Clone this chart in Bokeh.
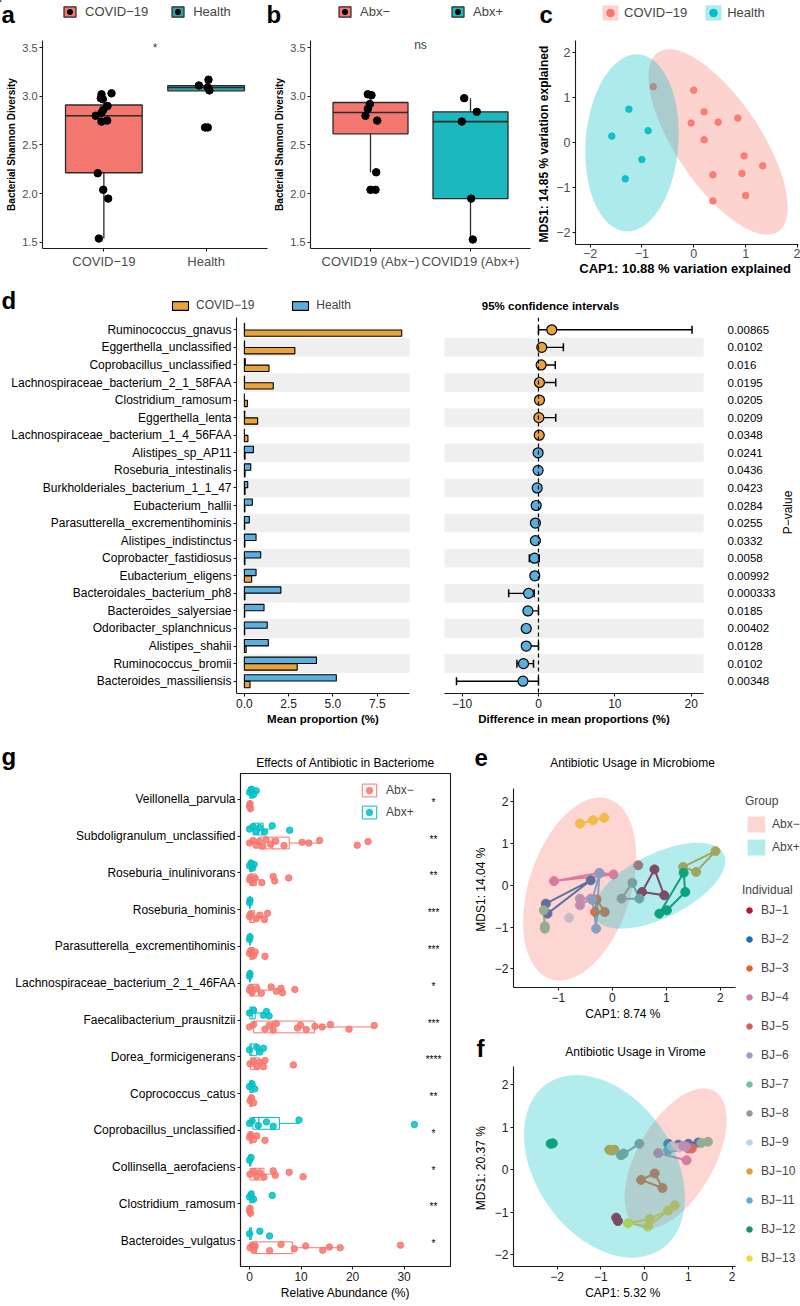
import numpy as np
from bokeh.plotting import figure
from bokeh.models import (ColumnDataSource, Range1d, FactorRange, FixedTicker, Label,
                          Legend, LegendItem, Span, CustomJSTickFormatter)
from bokeh.layouts import row, column
from bokeh.transform import dodge
from bokeh.core.properties import value
from bokeh.embed import file_html
from bokeh.resources import INLINE

FONT = "Liberation Sans"
MINUS = "\u2212"
SALMON = "#F8766D"
TEAL = "#00BFC4"
ORANGE = "#E8A33C"
BLUE = "#5BAFDE"

# ===================== DATA =====================
# (a) Shannon diversity COVID-19 vs Health
a_groups = ["COVID" + MINUS + "19", "Health"]
a_q1 = [2.215, 3.056]
a_median = [2.80, 3.09]
a_q3 = [2.91, 3.11]
a_whisker_low = [1.54, 3.06]
a_whisker_high = [3.03, 3.17]
a_point_group = [0] * 14 + [1] * 6
a_point_value = [3.03, 3.02, 2.98, 2.97, 2.90, 2.86, 2.83, 2.80, 2.75, 2.74, 2.21, 2.04, 1.95, 1.54,
                 3.17, 3.11, 3.09, 3.06, 2.68, 2.68]
a_point_jitter = [0.075, -0.023, -0.03, -0.01, 0.036, -0.006, -0.023, -0.08, 0.032, -0.023, -0.06, -0.006,
                  0.042, -0.049, 0.023, -0.071, 0.016, 0.032, -0.01, 0.016]

# (b) Shannon diversity Abx- vs Abx+
b_groups = ["COVID19 (Abx" + MINUS + ")", "COVID19 (Abx+)"]
b_legend = ["Abx" + MINUS, "Abx+"]
b_q1 = [2.615, 1.95]
b_median = [2.833, 2.74]
b_q3 = [2.936, 2.84]
b_whisker_low = [2.22, 1.53]
b_whisker_high = [3.02, 2.98]
b_point_group = [0] * 9 + [1] * 5
b_point_value = [3.02, 3.01, 2.92, 2.87, 2.80, 2.75, 2.22, 2.04, 2.04, 2.98, 2.84, 2.74, 1.95, 1.53]
b_point_jitter = [-0.027, 0.01, -0.007, -0.027, -0.05, 0.067, 0.057, 0.0, 0.05, -0.063, 0.063, -0.087, 0.007, 0.023]

# (c) ordination COVID-19 vs Health
c_groups = ["COVID" + MINUS + "19", "Health"]
c_point_group = [1] * 5 + [0] * 13
c_cap1 = [-1.25, -1.58, -0.88, -1.00, -1.32,
          -0.78, 0.00, 0.20, -0.05, 0.47, 0.85, 0.20, 0.97, 1.33, 0.37, 0.93, 1.00, 0.37]
c_mds1 = [0.75, 0.15, 0.27, -0.37, -0.80,
          1.25, 1.17, 0.69, 0.44, 0.46, 0.55, 0.07, -0.29, -0.51, -0.71, -0.68, -1.17, -1.29]
c_ell_x = [0.47, -1.19]
c_ell_y = [0.02, 0.0]
c_ell_w = [1.64, 1.79]
c_ell_h = [4.8, 3.95]
c_ell_angle = [0.59, -0.075]

# (d) differential taxa
d_taxa = ["Ruminococcus_gnavus", "Eggerthella_unclassified", "Coprobacillus_unclassified",
          "Lachnospiraceae_bacterium_2_1_58FAA", "Clostridium_ramosum", "Eggerthella_lenta",
          "Lachnospiraceae_bacterium_1_4_56FAA", "Alistipes_sp_AP11", "Roseburia_intestinalis",
          "Burkholderiales_bacterium_1_1_47", "Eubacterium_hallii", "Parasutterella_excrementihominis",
          "Alistipes_indistinctus", "Coprobacter_fastidiosus", "Eubacterium_eligens",
          "Bacteroidales_bacterium_ph8", "Bacteroides_salyersiae", "Odoribacter_splanchnicus",
          "Alistipes_shahii", "Ruminococcus_bromii", "Bacteroides_massiliensis"]
d_covid = [8.88, 2.85, 1.39, 1.63, 0.17, 0.75, 0.20, 0.04, 0.04, 0.04, 0.03, 0.02, 0.03, 0.03,
           0.41, 0.03, 0.02, 0.02, 0.10, 2.98, 0.32]
d_health = [0.01, 0.01, 0.05, 0.01, 0.0, 0.02, 0.0, 0.51, 0.36, 0.19, 0.45, 0.28, 0.66, 0.92,
            0.66, 2.06, 1.11, 1.29, 1.35, 4.07, 5.19]
d_diff = [1.74, 0.43, 0.35, 0.13, 0.13, 0.05, 0.10, -0.05, -0.05, -0.17, -0.30, -0.40, -0.40,
          -0.52, -0.48, -1.30, -1.38, -1.60, -1.60, -1.96, -2.03]
d_ci_low = [0.0, 0.1, 0.05, 0.0, 0.05, 0.0, 0.05, -0.2, -0.15, -0.3, -0.65, -0.6, -0.6, -1.2,
            -0.8, -3.9, -1.8, -1.75, -1.9, -2.82, -10.73]
d_ci_high = [20.1, 3.26, 2.2, 2.26, 0.2, 2.26, 0.15, 0.1, 0.05, 0.0, 0.0, -0.2, -0.2, 0.1, 0.0,
             -0.56, 0.0, -1.45, 0.0, -0.65, 0.0]
d_pvalue = ["0.00865", "0.0102", "0.016", "0.0195", "0.0205", "0.0209", "0.0348", "0.0241",
            "0.0436", "0.0423", "0.0284", "0.0255", "0.0332", "0.0058", "0.00992", "0.000333",
            "0.0185", "0.00402", "0.0128", "0.0102", "0.00348"]

# (g) antibiotic effects
g_taxa = ["Veillonella_parvula", "Subdoligranulum_unclassified", "Roseburia_inulinivorans",
          "Roseburia_hominis", "Parasutterella_excrementihominis", "Lachnospiraceae_bacterium_2_1_46FAA",
          "Faecalibacterium_prausnitzii", "Dorea_formicigenerans", "Coprococcus_catus",
          "Coprobacillus_unclassified", "Collinsella_aerofaciens", "Clostridium_ramosum",
          "Bacteroides_vulgatus"]
g_signif = ["*", "**", "**", "***", "***", "*", "***", "****", "**", "*", "*", "**", "*"]
g_minus_q1 = [0.0, 1.85, 0.05, 0.05, 0.05, 0.1, 0.8, 0.2, 0.05, 0.05, 0.1, 0.0, 0.6]
g_minus_median = [0.05, 4.4, 0.5, 0.3, 0.3, 0.6, 4.4, 1.0, 0.2, 0.2, 1.0, 0.05, 1.3]
g_minus_q3 = [0.15, 7.7, 1.3, 1.0, 0.8, 1.8, 12.6, 1.9, 0.5, 0.5, 2.8, 0.15, 8.3]
g_minus_low = [0.0] * 13
g_minus_high = [0.3, 13.6, 2.6, 3.5, 1.1, 4.2, 24.2, 3.0, 0.9, 1.0, 5.0, 0.3, 17.6]
g_plus_q1 = [0.05, 0.7, 0.05, 0.0, 0.0, 0.0, 0.05, 0.05, 0.05, 0.65, 0.0, 0.05, 0.0]
g_plus_median = [0.3, 1.7, 0.2, 0.05, 0.05, 0.05, 0.5, 0.3, 0.3, 1.8, 0.1, 0.3, 0.1]
g_plus_q3 = [0.8, 2.65, 0.5, 0.15, 0.15, 0.15, 1.1, 1.4, 0.7, 5.8, 0.3, 0.8, 0.4]
g_plus_low = [0.0] * 13
g_plus_high = [1.5, 4.4, 0.9, 0.3, 0.3, 0.3, 2.7, 2.7, 1.0, 9.6, 0.6, 1.2, 0.8]
g_minus_points = [
    [0.0, 0.1, 0.2],
    [0.0, 0.7, 1.3, 1.9, 2.6, 3.2, 4.1, 5.1, 6.7, 10.2, 11.5, 13.6, 20.9, 23.0],
    [0.0, 0.2, 0.7, 1.1, 2.4, 4.6, 4.9, 7.6],
    [0.0, 0.2, 1.3, 2.0, 2.9, 3.5],
    [0.0, 0.2, 0.8, 1.1, 3.0],
    [0.0, 0.2, 0.5, 1.4, 2.3, 4.2, 5.2, 6.1, 6.4, 8.8],
    [0.0, 0.8, 3.0, 3.8, 4.6, 5.2, 9.3, 9.9, 11.0, 12.7, 14.1, 15.7, 19.3, 24.2],
    [0.1, 0.8, 1.4, 2.0, 2.7, 3.0, 8.5],
    [0.1, 0.4, 0.8],
    [0.0, 0.2, 0.8, 1.4, 3.0],
    [0.1, 0.8, 1.4, 2.0, 2.8, 4.6, 5.0, 7.7, 10.4],
    [0.0, 0.1, 0.2],
    [0.1, 0.5, 0.8, 1.1, 3.9, 6.1, 8.7, 10.9, 14.2, 15.5, 17.6, 29.3],
]
g_plus_points = [
    [0.0, 0.3, 0.8, 1.3],
    [0.0, 0.7, 1.3, 2.0, 2.9, 4.4, 7.8],
    [0.0, 0.3, 0.6, 0.9],
    [0.0, 0.1],
    [0.0, 0.1],
    [0.0, 0.1],
    [0.0, 0.8, 2.7, 3.3, 3.8],
    [0.0, 1.4, 2.0, 2.7],
    [0.0, 0.5, 1.0],
    [0.0, 0.5, 1.7, 3.3, 4.6, 9.6, 32.0],
    [0.0, 0.3],
    [0.0, 0.3, 0.8, 4.4],
    [0.0, 2.0, 3.9],
]

# (e)/(f) individuals
bj_numbers = list(range(1, 14))
bj_colors = ["#B5173C", "#1F6FB2", "#E0652B", "#CC7DB3", "#D3625F", "#A39AD0", "#6CC39F",
             "#989898", "#B7D5EA", "#E99B30", "#5AAEE3", "#13965F", "#F1DA35"]
e_individual = [13, 13, 13, 1, 1, 1, 10, 10, 10, 12, 12, 12, 12, 8, 8, 8, 5, 4, 4, 4, 2, 2, 2,
                7, 7, 7, 3, 3, 3, 6, 6, 6, 9, 11, 11, 11]
e_cap1 = [-0.60, -0.36, -0.15, 0.78, 0.55, 0.96, 1.91, 1.31, 1.55, 1.32, 1.35, 1.01, 0.87,
          0.37, 0.17, 0.50, 0.48, -1.08, 0.02, -0.24, -1.23, -1.20, -0.40, -1.27, -1.25, -1.25,
          -0.29, -0.32, -0.14, -0.60, -0.60, -0.40, -0.80, -0.30, -0.37, -0.24]
e_mds1 = [1.48, 1.56, 1.62, 0.38, -0.16, -0.24, 0.82, 0.44, 0.32, 0.30, -0.16, -0.60, -0.68,
          0.06, -0.32, -0.32, 0.48, 0.10, 0.26, 0.30, -0.44, -0.68, 0.12, -0.60, -1.04, -0.98,
          -0.34, -0.64, -0.64, -0.32, -0.48, -0.32, -0.78, -1.04, -0.35, 0.28]
e_ell_x = [-0.605, 0.87]
e_ell_y = [-0.09, -0.01]
e_ell_w = [1.89, 2.66]
e_ell_h = [4.54, 1.54]
e_ell_angle = [-0.31, 0.46]

f_individual = [12, 12, 10, 10, 10, 8, 8, 8, 2, 2, 2, 2, 7, 7, 11, 11, 4, 4, 5, 5, 9, 9, 6, 6,
                3, 3, 3, 1, 1, 13, 13, 13, 13, 13]
f_cap1 = [-2.15, -2.10, -0.81, -0.69, -0.75, -0.48, -0.12, -0.54, 0.54, 0.77, 1.00, 1.23, 1.30,
          1.45, 0.54, 0.70, 0.31, 0.96, 1.00, 1.08, 0.62, 0.80, 0.88, 0.95, -0.08, 0.23, 0.41,
          -0.65, -0.61, -0.38, 0.08, 0.69, 0.54, 0.12]
f_mds1 = [0.61, 0.62, 0.47, 0.47, 0.45, 0.38, 0.61, 0.34, 0.61, 0.59, 0.61, 0.64, 0.63, 0.66,
          0.46, 0.53, 0.39, 0.22, 0.50, 0.50, 0.55, 0.52, 0.56, 0.54, -0.24, -0.09, -0.43,
          -1.13, -1.21, -1.26, -1.34, -0.84, -0.96, -1.16]
f_ell_x = [0.71, -0.92]
f_ell_y = [0.26, 0.08]
f_ell_w = [1.76, 3.14]
f_ell_h = [3.67, 4.74]
f_ell_angle = [-0.52, 0.61]
group_labels = ["Abx" + MINUS, "Abx+"]


# ===================== HELPERS =====================
def no_align(p):
    try:
        p.frame_align = False
    except Exception:
        pass
    return p


def num_fmt(dec=0):
    return CustomJSTickFormatter(code=(
        "const s = Math.abs(tick).toFixed(%d); return (tick < -1e-9) ? '\\u2212' + s : s;" % dec))


def cat_fmt(names):
    return CustomJSTickFormatter(args=dict(names=names), code=(
        "const i = Math.round(tick) - 1; return (i >= 0 && i < names.length) ? names[i] : '';"))


def fig(w, h, xr, yr, ml, mr, mt, mb, tick_color="#222222", **kw):
    p = figure(width=w, height=h, x_range=xr, y_range=yr, output_backend="svg",
               toolbar_location=None, min_border_left=ml, min_border_right=mr,
               min_border_top=mt, min_border_bottom=mb, **kw)
    no_align(p)
    p.xgrid.visible = False
    p.ygrid.visible = False
    p.outline_line_color = None
    p.background_fill_color = "white"
    p.border_fill_color = "white"
    for ax in p.axis:
        ax.axis_line_color = "#1A1A1A"
        ax.axis_line_width = 1.1
        ax.major_tick_line_color = "#1A1A1A"
        ax.major_tick_line_width = 1.1
        ax.major_tick_out = 3
        ax.major_tick_in = 0
        ax.minor_tick_line_color = None
        ax.major_label_text_font = FONT
        ax.major_label_text_font_size = "12px"
        ax.major_label_text_color = tick_color
        ax.major_label_standoff = 2
        ax.axis_label_text_font = FONT
        ax.axis_label_text_font_size = "12px"
        ax.axis_label_text_font_style = "normal"
        ax.axis_label_text_color = "black"
        ax.axis_label_standoff = 3
    return p


def header(w, h):
    # a frameless strip whose data units are its own pixels (y grows downward)
    p = figure(width=w, height=h, x_range=Range1d(0, w), y_range=Range1d(h, 0),
               output_backend="svg", toolbar_location=None, x_axis_location=None,
               y_axis_location=None, min_border=0)
    no_align(p)
    p.xgrid.visible = False
    p.ygrid.visible = False
    p.outline_line_color = None
    return p


def put(p, x, y, t, size, bold=False, align="left", baseline="middle", angle=0.0):
    p.add_layout(Label(x=x, y=y, text=t, text_font=FONT, text_font_size="%spx" % size,
                       text_font_style="bold" if bold else "normal", text_align=align,
                       text_baseline=baseline, angle=angle, text_color="black"))


def legend(items, loc, **kw):
    opts = dict(location=loc, padding=0, margin=0, border_line_color=None,
                background_fill_alpha=0, label_text_font=FONT, label_text_font_size="13px",
                title_text_font=FONT, title_text_font_style="normal", title_text_font_size="12px")
    opts.update(kw)
    return Legend(items=items, **opts)


OFF = [-1000]  # legend-key renderers sit outside every header range
LETTER = 24

# ===================== ROW 1 : a, b, c =====================
h1 = header(800, 30)
put(h1, 1, 14, "a", LETTER, bold=True)
put(h1, 266, 14, "b", LETTER, bold=True)
put(h1, 539, 14, "c", LETTER, bold=True)


def box_keys(fills, labels, x0, spacing):
    items = []
    for i in range(2):
        b = h1.vbar(x=OFF, width=1, bottom=[0], top=[1], fill_color=fills[i], line_color="#2B2B2B",
                    line_width=1.2)
        d = h1.scatter(x=OFF, y=[0], size=6, color="black")
        items.append(LegendItem(label=labels[i], renderers=[b, d]))
    h1.add_layout(legend(items, (x0, 11), orientation="horizontal", glyph_width=15,
                         glyph_height=13, label_height=13, label_standoff=8, spacing=spacing))


def box_panel(w, ml, mr, groups, q1, med, q3, lo, hi, pgrp, pval, pjit, fills, sig, sig_y, sig_base):
    p = fig(w, 248, Range1d(0.4, 2.6), Range1d(1.438, 3.572), ml, mr, 10, 30, tick_color="#4D4D4D")
    pos = [1, 2]
    src = ColumnDataSource(dict(x=pos, q1=q1, med=med, q3=q3, lo=lo, hi=hi, fill=fills,
                                m0=[v - 0.375 for v in pos], m1=[v + 0.375 for v in pos]))
    lc = "#2B2B2B"
    p.segment("x", "q3", "x", "hi", source=src, line_color=lc, line_width=1.3)
    p.segment("x", "lo", "x", "q1", source=src, line_color=lc, line_width=1.3)
    p.vbar(x="x", width=0.75, bottom="q1", top="q3", fill_color="fill", line_color=lc,
           line_width=1.3, source=src)
    p.segment("m0", "med", "m1", "med", source=src, line_color=lc, line_width=1.6)
    px = [pos[g] + j for g, j in zip(pgrp, pjit)]
    p.scatter(px, pval, size=7.5, color="black")
    p.xaxis.ticker = FixedTicker(ticks=pos)
    p.xaxis.formatter = cat_fmt(groups)
    p.xaxis.major_label_text_font_size = "13px"
    p.yaxis.ticker = FixedTicker(ticks=[1.5, 2.0, 2.5, 3.0, 3.5])
    p.yaxis.formatter = num_fmt(1)
    p.yaxis.major_label_text_font_size = "11px"
    p.yaxis.axis_label = "Bacterial Shannon Diversity"
    p.yaxis.axis_label_text_font_style = "bold"
    p.yaxis.axis_label_text_font_size = "10px"
    p.yaxis.axis_label_standoff = 2
    p.add_layout(Label(x=1.5, y=sig_y, text=sig, text_font=FONT, text_font_size="12px",
                       text_align="center", text_baseline=sig_base))
    return p


box_keys(["#F3766F", "#31A3A8"], a_groups, 62, 22)
pa = box_panel(270, 42, 3, a_groups, a_q1, a_median, a_q3, a_whisker_low, a_whisker_high,
               a_point_group, a_point_value, a_point_jitter, ["#F3766F", "#31A3A8"], "*", 3.572, "top")
box_keys(["#F3766F", "#1DB8BE"], b_legend, 337, 60)
pb = box_panel(262, 40, 2, b_groups, b_q1, b_median, b_q3, b_whisker_low, b_whisker_high,
               b_point_group, b_point_value, b_point_jitter, ["#F3766F", "#1DB8BE"], "ns", 3.528, "middle")

# panel c
gcols = [SALMON, TEAL]
ckeys = []
for gi in range(2):
    q = h1.quad(left=OFF, right=OFF, top=[0], bottom=[1], fill_color=gcols[gi], fill_alpha=0.32,
                line_color=None)
    d = h1.scatter(x=OFF, y=[0], size=6, color=gcols[gi])
    ckeys.append(LegendItem(label=c_groups[gi], renderers=[q, d]))
h1.add_layout(legend(ckeys, (600, 8), orientation="horizontal", glyph_width=20, glyph_height=19,
                     label_height=19, label_standoff=4, spacing=16))

pc = fig(268, 248, Range1d(-2.28, 2.02), Range1d(-2.26, 2.276), 43, 2, 10, 30, tick_color="#4D4D4D")
for gi in range(2):
    xs = [x for x, g in zip(c_cap1, c_point_group) if g == gi]
    ys = [y for y, g in zip(c_mds1, c_point_group) if g == gi]
    pc.scatter(xs, ys, size=6.5, color=gcols[gi], alpha=0.9)
pc.ellipse(x=c_ell_x, y=c_ell_y, width=c_ell_w, height=c_ell_h, angle=c_ell_angle,
           fill_color=gcols, fill_alpha=0.32, line_color=None)
pc.xaxis.ticker = FixedTicker(ticks=[-2, -1, 0, 1, 2])
pc.yaxis.ticker = FixedTicker(ticks=[-2, -1, 0, 1, 2])
pc.xaxis.formatter = num_fmt(0)
pc.yaxis.formatter = num_fmt(0)
pc.xaxis.major_label_text_font_size = "12.5px"
pc.yaxis.major_label_text_font_size = "12.5px"
pc.xaxis.major_label_standoff = 1
pc.yaxis.axis_label = "MDS1:  14.85 % variation explained"
pc.yaxis.axis_label_text_font_style = "bold"
pc.yaxis.axis_label_text_font_size = "12px"
pc.yaxis.axis_label_standoff = 2
pc.xaxis.axis_label = "CAP1:  10.88 % variation explained"
pc.xaxis.axis_label_text_font_style = "bold"
pc.xaxis.axis_label_text_font_size = "13px"
pc.xaxis.axis_label_standoff = 0

# ===================== ROW 2 : d =====================
h2 = header(800, 36)
put(h2, 1, 21.5, "d", LETTER, bold=True)
put(h2, 550, 27, "95% confidence intervals", 11.5, bold=True, align="center")

d_y = FactorRange(factors=d_taxa[::-1], range_padding=0.2, range_padding_units="absolute")
d_color = [ORANGE if c > h else BLUE for c, h in zip(d_covid, d_health)]
dsrc = ColumnDataSource(dict(taxon=d_taxa, covid=d_covid, health=d_health, diff=d_diff,
                             lo=d_ci_low, hi=d_ci_high, color=d_color))
band_taxa = d_taxa[1::2]

dkeys = []
for lab, col in [("COVID" + MINUS + "19", ORANGE), ("Health", BLUE)]:
    r = h2.quad(left=OFF, right=OFF, top=[0], bottom=[1], fill_color=col, line_color="black",
                line_width=1.1)
    dkeys.append(LegendItem(label=lab, renderers=[r]))
h2.add_layout(legend(dkeys, (170, 2), orientation="horizontal", glyph_width=20, glyph_height=11,
                     label_height=13, label_standoff=6, spacing=36, label_text_font_size="12px"))

pd1 = fig(412, 421, Range1d(-0.444, 9.32), d_y, 236, 3, 3, 42)
pd1.hbar(y=band_taxa, left=0, right=9.32, height=1, color="#EFEFEF")
pd1.hbar(y=dodge("taxon", 0.19, range=d_y), left=0, right="health", height=0.36,
         fill_color=BLUE, line_color="black", line_width=1.1, source=dsrc)
pd1.hbar(y=dodge("taxon", -0.19, range=d_y), left=0, right="covid", height=0.36,
         fill_color=ORANGE, line_color="black", line_width=1.1, source=dsrc)
pd1.xaxis.ticker = FixedTicker(ticks=[0, 2.5, 5, 7.5])
pd1.xaxis.formatter = num_fmt(1)
pd1.xaxis.axis_label = "Mean proportion (%)"
pd1.xaxis.axis_label_text_font_style = "bold"
pd1.xaxis.axis_label_text_font_size = "11.5px"
pd1.xaxis.axis_label_standoff = 2
pd1.yaxis.major_label_text_color = "black"

pd2 = fig(366, 421, Range1d(-12.3, 21.6), d_y, 32, 74, 3, 42, y_axis_location="right")
pd2.hbar(y=band_taxa, left=-12.3, right=21.6, height=1, color="#EFEFEF")
pd2.add_layout(Span(location=0, dimension="height", line_color="black", line_width=1.2,
                    line_dash="4 3"))
pd2.segment("lo", "taxon", "hi", "taxon", source=dsrc, line_color="black", line_width=1.4)
pd2.scatter("lo", "taxon", source=dsrc, marker="dash", angle=np.pi / 2, size=8,
            line_color="black", line_width=1.5)
pd2.scatter("hi", "taxon", source=dsrc, marker="dash", angle=np.pi / 2, size=8,
            line_color="black", line_width=1.5)
pd2.scatter("diff", "taxon", source=dsrc, size=10, fill_color="color", line_color="black",
            line_width=1.2)
pd2.xaxis.ticker = FixedTicker(ticks=[-10, 0, 10, 20])
pd2.xaxis.formatter = num_fmt(0)
pd2.xaxis.axis_label = "Difference in mean proportions (%)"
pd2.xaxis.axis_label_text_font_style = "bold"
pd2.xaxis.axis_label_text_font_size = "11.5px"
pd2.xaxis.axis_label_standoff = 2
ry = pd2.yaxis[0]
ry.axis_line_color = None
ry.major_tick_line_color = None
ry.major_label_standoff = 21
ry.major_label_text_font_size = "11.5px"
ry.major_label_text_color = "black"
ry.formatter = CustomJSTickFormatter(args=dict(names=d_taxa, vals=d_pvalue), code=(
    "const i = names.indexOf(tick); return i >= 0 ? vals[i] : '';"))

pv = header(22, 421)
put(pv, 9, 198, "P" + MINUS + "value", 12, align="center", angle=np.pi / 2)

# ===================== ROW 3 : g =====================
hg = header(455, 35)
put(hg, 1, 20.5, "g", LETTER, bold=True)
put(hg, 345, 27.5, "Effects of Antibiotic in Bacteriome", 12, align="center")

g_y = FactorRange(factors=g_taxa[::-1], range_padding=0.2, range_padding_units="absolute")
pg = fig(455, 536, Range1d(-1.75, 39), g_y, 240, 5, 3, 40)
pg.outline_line_color = "#1A1A1A"
pg.outline_line_width = 1.1
JIT = [0.0, 0.07, -0.06, 0.04, -0.08, 0.09, -0.03, 0.05, -0.07, 0.02]
g_items = []
for lab, off, col, q1, med, q3, lo, hi, pts in [
        (group_labels[0], -0.19, SALMON, g_minus_q1, g_minus_median, g_minus_q3, g_minus_low,
         g_minus_high, g_minus_points),
        (group_labels[1], 0.19, TEAL, g_plus_q1, g_plus_median, g_plus_q3, g_plus_low,
         g_plus_high, g_plus_points)]:
    src = ColumnDataSource(dict(y=[(t, off) for t in g_taxa], q1=q1, med=med, q3=q3, lo=lo, hi=hi,
                                m0=[(t, off - 0.16) for t in g_taxa],
                                m1=[(t, off + 0.16) for t in g_taxa]))
    pg.segment("lo", "y", "q1", "y", source=src, line_color=col, line_width=1)
    pg.segment("q3", "y", "hi", "y", source=src, line_color=col, line_width=1)
    box = pg.hbar(y="y", left="q1", right="q3", height=0.32, fill_color=None, line_color=col,
                  line_width=1, source=src)
    pg.segment("med", "m0", "med", "m1", source=src, line_color=col, line_width=1.2)
    px, py = [], []
    for t, vals in zip(g_taxa, pts):
        for k, v in enumerate(vals):
            px.append(v)
            py.append((t, off + JIT[k % len(JIT)]))
    dots = pg.scatter(px, py, size=6.5, color=col, alpha=0.85)
    g_items.append(LegendItem(label=lab, renderers=[box, dots]))
pg.text(x=[35.7] * len(g_taxa), y=g_taxa, text=g_signif, text_font=value(FONT),
        text_font_size="10px", text_align="center", text_baseline="middle", y_offset=3)
pg.add_layout(legend(g_items, (120, 446), glyph_width=18, glyph_height=16, label_height=16,
                     label_standoff=8, spacing=6, label_text_font_size="12px"))
pg.xaxis.ticker = FixedTicker(ticks=[0, 10, 20, 30])
pg.xaxis.axis_label = "Relative Abundance (%)"
pg.xaxis.axis_label_standoff = 2
pg.yaxis.major_label_text_color = "black"


# ===================== ROW 3 : e, f =====================
def ordination(h, xr, yr, mt, mb, ind, xs, ys, ex, ey, ew, eh, ea, xticks, xlabel, ylabel):
    p = fig(283, h, xr, yr, 58, 3, mt, mb)
    order = []
    for i in ind:
        if i not in order:
            order.append(i)
    pxs = [[x for k, x in zip(ind, xs) if k == n] for n in order]
    pys = [[y for k, y in zip(ind, ys) if k == n] for n in order]
    cols = [bj_colors[n - 1] for n in order]
    p.patches(xs=pxs, ys=pys, fill_color=None, line_color=cols, line_width=2)
    p.scatter(xs, ys, size=9, color=[bj_colors[n - 1] for n in ind])
    p.ellipse(x=ex, y=ey, width=ew, height=eh, angle=ea, fill_color=[SALMON, TEAL],
              fill_alpha=0.3, line_color=None)
    p.xaxis.ticker = FixedTicker(ticks=xticks)
    p.yaxis.ticker = FixedTicker(ticks=[-2, -1, 0, 1, 2])
    p.xaxis.formatter = num_fmt(0)
    p.yaxis.formatter = num_fmt(0)
    p.xaxis.axis_label = xlabel
    p.yaxis.axis_label = ylabel
    p.xaxis.axis_label_standoff = 2
    p.yaxis.axis_label_standoff = 4
    return p


he = header(283, 35)
put(he, 19, 21.5, "e", LETTER, bold=True)
put(he, 177, 27, "Antibiotic Usage in Microbiome", 12, align="center")
pe = ordination(260, Range1d(-1.83, 2.28), Range1d(-2.45, 2.32), 18, 43, e_individual, e_cap1,
                e_mds1, e_ell_x, e_ell_y, e_ell_w, e_ell_h, e_ell_angle, [-1, 0, 1, 2],
                "CAP1:  8.74 %", "MDS1:  14.04 %")
hf = header(283, 32)
put(hf, 21, 18, "f", LETTER, bold=True)
put(hf, 180, 21.5, "Antibiotic Usage in Virome", 12, align="center")
pf = ordination(244, Range1d(-3.0, 2.08), Range1d(-2.28, 2.43), 4, 40, f_individual, f_cap1,
                f_mds1, f_ell_x, f_ell_y, f_ell_w, f_ell_h, f_ell_angle, [-2, -1, 0, 1, 2],
                "CAP1:  5.32 %", "MDS1:  20.37 %")

# ===================== shared legend for e/f =====================
pl = header(62, 571)
gitems = []
for gi in range(2):
    q = pl.quad(left=OFF, right=OFF, top=[0], bottom=[1], fill_color=[SALMON, TEAL][gi],
                fill_alpha=0.3, line_color=None)
    gitems.append(LegendItem(label=group_labels[gi], renderers=[q]))
pl.add_layout(legend(gitems, (7, 449), title="Group", glyph_width=22, glyph_height=20,
                     label_height=20, spacing=3, label_standoff=5, label_text_font_size="12px",
                     title_standoff=6))
iitems = []
for n, c in zip(bj_numbers, bj_colors):
    r = pl.scatter(x=OFF, y=[0], size=11, color=c)
    iitems.append(LegendItem(label="BJ" + MINUS + str(n), renderers=[r]))
pl.add_layout(legend(iitems, (4, 38), title="Individual", glyph_width=14, glyph_height=20,
                     label_height=20, spacing=9, label_standoff=5, label_text_font_size="12px",
                     title_standoff=3))

layout = column(
    h1,
    row(pa, pb, pc),
    h2,
    row(pd1, pd2, pv),
    row(column(hg, pg), column(he, pe, hf, pf), pl),
)
open("out.html", "w").write(file_html(layout, INLINE))
